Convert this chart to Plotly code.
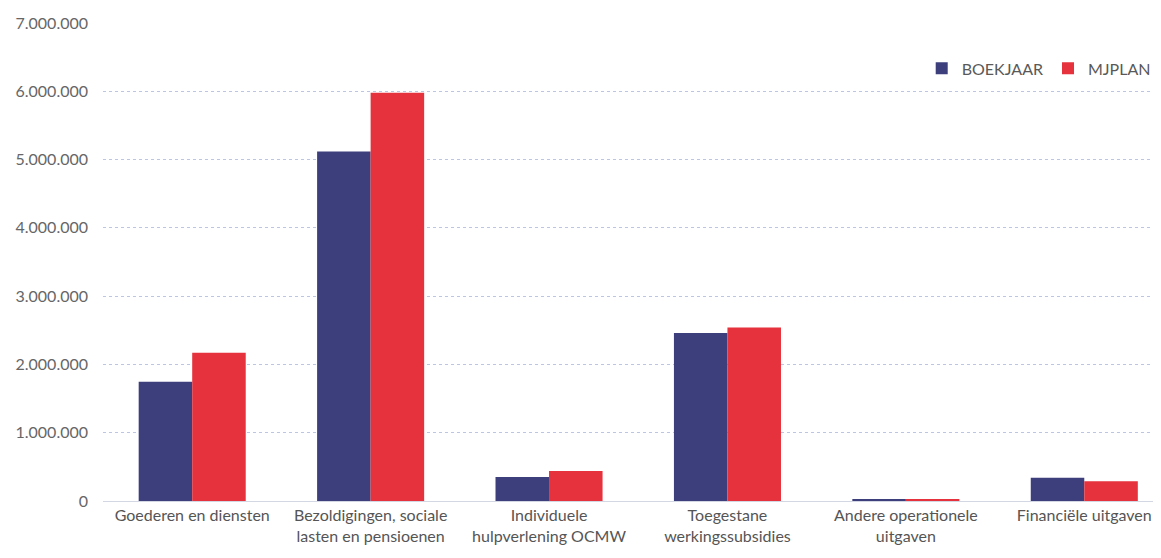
import plotly.graph_objects as go

categories = ["Goederen en diensten", "Bezoldigingen, sociale<br>lasten en pensioenen",
              "Individuele<br>hulpverlening OCMW", "Toegestane<br>werkingssubsidies",
              "Andere operationele<br>uitgaven", "Financiële uitgaven"]
boekjaar = [1745000, 5120000, 350000, 2460000, 30000, 340000]
mjplan = [2170000, 5980000, 440000, 2540000, 30000, 290000]
yticks = [0, 1000000, 2000000, 3000000, 4000000, 5000000, 6000000, 7000000]

fig = go.Figure()
fig.add_trace(go.Bar(x=categories, y=boekjaar, name="BOEKJAAR",
                     marker=dict(color="#3c3f7c", line=dict(width=0))))
fig.add_trace(go.Bar(x=categories, y=mjplan, name="MJPLAN",
                     marker=dict(color="#e5323c", line=dict(width=0))))

fig.update_layout(
    width=1153, height=550,
    margin=dict(l=95, r=0, t=15, b=57),
    paper_bgcolor="white", plot_bgcolor="white",
    barmode="group", bargap=0.4, bargroupgap=0,
    separators=",.",
    font=dict(family="Lato, Open Sans, sans-serif", size=16, color="#595959"),
    legend=dict(orientation="h", x=0.995, xanchor="right", y=0.905, yanchor="middle",
                font=dict(size=16, color="#595959"), itemwidth=30,
                bgcolor="rgba(0,0,0,0)", traceorder="normal"),
)
fig.update_yaxes(range=[0, 7000000], tickvals=yticks, tickformat=",d",
                 showgrid=True, gridcolor="#bcc5e2", griddash="dot", gridwidth=1,
                 zeroline=False, showline=False, ticks="", ticklen=0,
                 ticklabelstandoff=14, tickfont=dict(size=16, color="#666666"))
fig.update_xaxes(range=[-0.5, 5.43], showline=True, linecolor="#d3d7e3", linewidth=1,
                 ticks="", tickfont=dict(size=16, color="#555555"), tickangle=0)

fig.write_html("out.html")
